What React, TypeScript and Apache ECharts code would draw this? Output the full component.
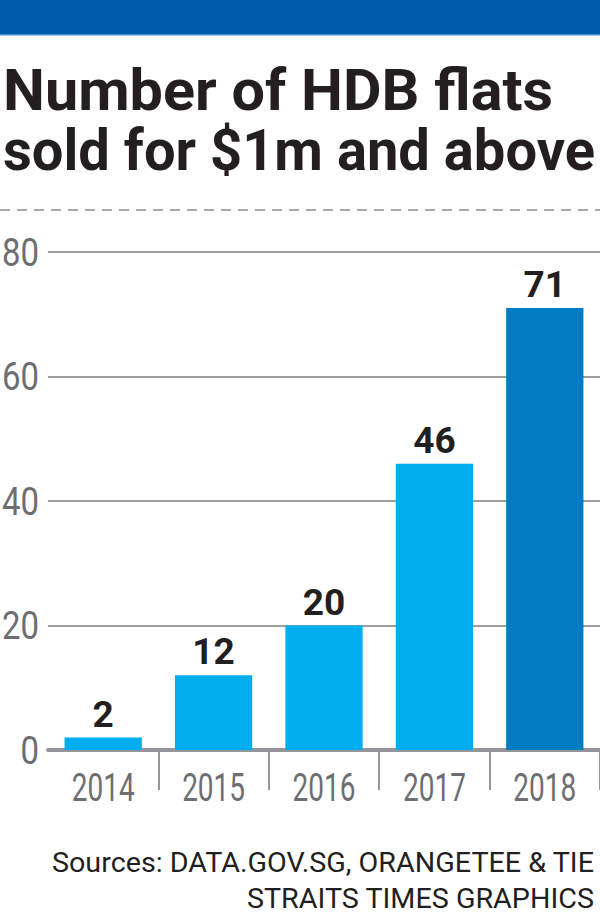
import React, { useEffect, useRef } from "react";
import * as echarts from "echarts";

const years: string[] = ["2014", "2015", "2016", "2017", "2018"];
const flatsSold: number[] = [2, 12, 20, 46, 71];
const yTicks: number[] = [0, 20, 40, 60, 80];
const titleLines: string[] = ["Number of HDB flats", "sold for $1m and above"];
const sourceLines: string[] = ["Sources: DATA.GOV.SG, ORANGETEE & TIE", "STRAITS TIMES GRAPHICS"];
const highlightYear = "2018";

const FONT = "Roboto, 'Liberation Sans', sans-serif";
const INK = "#231F20";
const AXIS_GREY = "#6D6E71";

function measure(text: string, font: string): number {
  const c = document.createElement("canvas");
  const ctx = c.getContext("2d");
  if (!ctx) return text.length * 10;
  ctx.font = font;
  return ctx.measureText(text).width;
}

export default function App() {
  const ref = useRef<HTMLDivElement>(null);
  useEffect(() => {
    if (!ref.current) return;
    const chart = echarts.init(ref.current, null, { renderer: "svg" });

    const titleFont = `bold 58px ${FONT}`;
    const titleScale0 = 550 / measure(titleLines[0], titleFont);
    const titleScale1 = 592 / measure(titleLines[1], titleFont);
    const srcFont = `27px ${FONT}`;
    const srcScale = 543 / measure(sourceLines[0], srcFont);
    const axisFont = `38px ${FONT}`;
    const xScale = 63 / measure(years[0], axisFont);
    const yScale = 37 / measure(String(yTicks[yTicks.length - 1]), axisFont);

    const baseGraphics: any[] = [
      { id: "topbar", type: "rect", shape: { x: 0, y: 0, width: 600, height: 35 }, style: { fill: "#005BAA" } },
      { id: "topbarEdge", type: "rect", shape: { x: 0, y: 34, width: 600, height: 1.5 }, style: { fill: "#4A8FD0" } },
      {
        id: "title0", type: "text", x: 3, y: 90, scaleX: titleScale0,
        style: { text: titleLines[0], fontSize: 58, fontWeight: "bold", fontFamily: FONT, fill: INK, align: "left", verticalAlign: "middle" },
      },
      {
        id: "title1", type: "text", x: 3, y: 150, scaleX: titleScale1,
        style: { text: titleLines[1], fontSize: 58, fontWeight: "bold", fontFamily: FONT, fill: INK, align: "left", verticalAlign: "middle" },
      },
      {
        id: "dash", type: "line", shape: { x1: 0, y1: 210, x2: 600, y2: 210 },
        style: { stroke: "#A7A9AC", lineWidth: 2, lineDash: [10, 7] },
      },
      {
        id: "src0", type: "text", x: 594, y: 863, scaleX: srcScale,
        style: { text: sourceLines[0], fontSize: 27, fontFamily: FONT, fill: INK, align: "right", verticalAlign: "middle" },
      },
      {
        id: "src1", type: "text", x: 594, y: 899, scaleX: srcScale,
        style: { text: sourceLines[1], fontSize: 27, fontFamily: FONT, fill: INK, align: "right", verticalAlign: "middle" },
      },
    ];

    const option: any = {
      animation: false,
      backgroundColor: "#ffffff",
      graphic: baseGraphics,
      grid: { left: 48, right: -2, top: 252, bottom: 169, containLabel: false },
      xAxis: {
        type: "category",
        data: years,
        axisLine: { show: true, lineStyle: { color: "#939598", width: 4 } },
        axisTick: {
          show: true,
          length: 40,
          interval: (index: number) => index > 0,
          lineStyle: { color: "#939598", width: 2 },
        },
        axisLabel: { show: false },
        splitLine: { show: false },
      },
      yAxis: {
        type: "value",
        min: yTicks[0],
        max: yTicks[yTicks.length - 1],
        interval: yTicks[1] - yTicks[0],
        axisLine: { show: false },
        axisTick: { show: false },
        axisLabel: { show: false },
        splitLine: { show: true, lineStyle: { color: "#9D9FA2", width: 2 } },
      },
      series: [
        {
          type: "bar",
          data: flatsSold,
          barWidth: "70%",
          itemStyle: {
            color: (p: any) => (years[p.dataIndex] === highlightYear ? "#007CC3" : "#00ADEE"),
          },
          label: {
            show: true,
            position: "top",
            distance: 5,
            color: INK,
            fontSize: 37,
            fontWeight: "bold",
            fontFamily: FONT,
          },
        },
      ],
    };
    chart.setOption(option);

    // Axis labels placed through the chart's own scales, drawn condensed
    const labelGraphics: any[] = [];
    years.forEach((yr, i) => {
      const pt = chart.convertToPixel({ gridIndex: 0 }, [yr, 0]) as number[];
      labelGraphics.push({
        id: "xl" + i, type: "text", x: pt[0], y: pt[1] + 38, scaleX: xScale,
        style: { text: yr, fontSize: 38, fontFamily: FONT, fill: AXIS_GREY, align: "center", verticalAlign: "middle" },
      });
    });
    yTicks.forEach((v, i) => {
      const pt = chart.convertToPixel({ gridIndex: 0 }, [years[0], v]) as number[];
      labelGraphics.push({
        id: "yl" + i, type: "text", x: 39, y: pt[1] + 1, scaleX: yScale,
        style: { text: String(v), fontSize: 38, fontFamily: FONT, fill: AXIS_GREY, align: "right", verticalAlign: "middle" },
      });
    });
    chart.setOption({ graphic: [...baseGraphics, ...labelGraphics] });

    return () => chart.dispose();
  }, []);
  return (
    <div
      ref={ref}
      style={{ position: "fixed", left: 0, top: 0, width: 600, height: 919, background: "#fff" }}
    />
  );
}
